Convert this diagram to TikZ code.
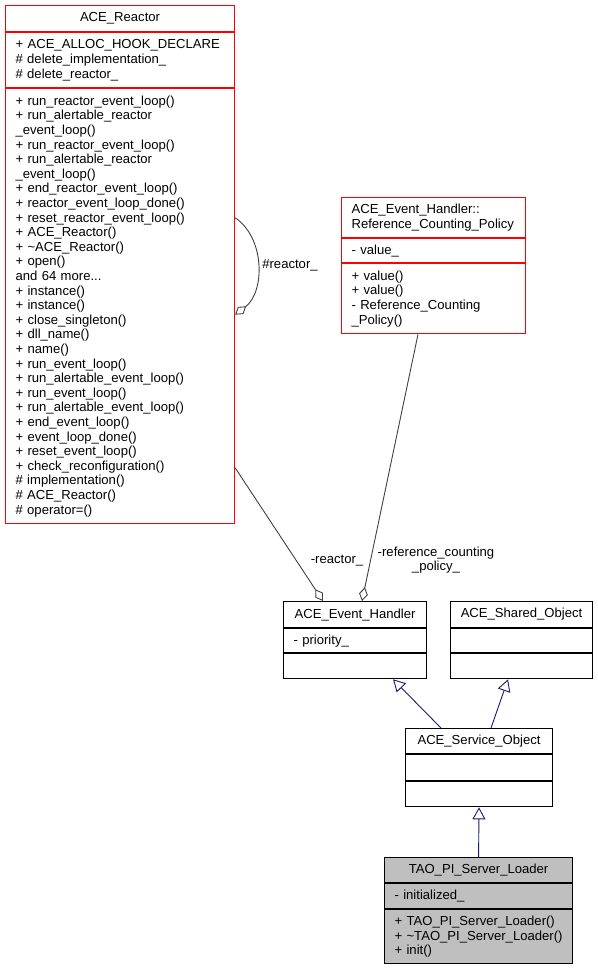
\documentclass[tikz,border=0pt]{standalone}
\usepackage{fontspec}
\setmainfont{Liberation Sans}
\usetikzlibrary{arrows.meta,positioning}
\definecolor{edgegrey}{HTML}{404040}
\definecolor{inhblue}{HTML}{191970}
\definecolor{boxred}{HTML}{FF0000}
\definecolor{curgrey}{HTML}{BFBFBF}

\begin{document}
\begin{tikzpicture}[x=1pt,y=-1pt,node distance=0pt]
      \tikzstyle{part}=[draw,line width=1.1pt,inner xsep=10pt,inner ysep=0pt,align=left,font=\fontsize{13.1}{14.6}\selectfont]
      \tikzstyle{hd}=[part,align=center]
      \tikzstyle{lbl}=[font=\fontsize{13.1}{14.6}\selectfont,align=center,inner sep=0pt]
      \tikzstyle{agg}=[edgegrey,line width=0.9pt,{Diamond[open,length=14pt,width=9pt]}-]
      \tikzstyle{inh}=[inhblue,line width=0.9pt,-{Triangle[open,length=12pt,width=13pt]}]
      \useasboundingbox (0,0) rectangle (597,968);
      % ACE_Reactor
      \node[hd,anchor=north west,draw=boxred,text width=209pt,minimum height=26pt] (reactor) at (5,5) {ACE\_Reactor};
      \node[part,draw=boxred,text width=209pt,minimum height=55pt,below=of reactor] (reactor-a) {+ ACE\_ALLOC\_HOOK\_DECLARE\\\# delete\_implementation\_\\\# delete\_reactor\_};
      \node[part,draw=boxred,text width=209pt,minimum height=435pt,below=of reactor-a] (reactor-m) {+ run\_reactor\_event\_loop()\\+ run\_alertable\_reactor\\\_event\_loop()\\+ run\_reactor\_event\_loop()\\+ run\_alertable\_reactor\\\_event\_loop()\\+ end\_reactor\_event\_loop()\\+ reactor\_event\_loop\_done()\\+ reset\_reactor\_event\_loop()\\+ ACE\_Reactor()\\+ \textasciitilde ACE\_Reactor()\\+ open()\\and 64 more...\\+ instance()\\+ instance()\\+ close\_singleton()\\+ dll\_name()\\+ name()\\+ run\_event\_loop()\\+ run\_alertable\_event\_loop()\\+ run\_event\_loop()\\+ run\_alertable\_event\_loop()\\+ end\_event\_loop()\\+ event\_loop\_done()\\+ reset\_event\_loop()\\+ check\_reconfiguration()\\\# implementation()\\\# ACE\_Reactor()\\\# operator=()};
      % Reference_Counting_Policy
      \node[part,anchor=north west,draw=boxred,text width=164pt,minimum height=40pt] (rcp) at (341,197) {ACE\_Event\_Handler::\\Reference\_Counting\_Policy};
      \node[part,draw=boxred,text width=164pt,minimum height=24pt,below=of rcp] (rcp-a) {- value\_};
      \node[part,draw=boxred,text width=164pt,minimum height=70pt,below=of rcp-a] (rcp-m) {+ value()\\+ value()\\- Reference\_Counting\\\_Policy()};
      % ACE_Event_Handler
      \node[hd,anchor=north west,text width=123pt,minimum height=26pt] (eh) at (283,601) {ACE\_Event\_Handler};
      \node[part,text width=123pt,minimum height=24pt,below=of eh] (eh-a) {- priority\_};
      \node[part,text width=123pt,minimum height=25pt,below=of eh-a] (eh-m) {};
      % ACE_Shared_Object
      \node[hd,anchor=north west,text width=122pt,minimum height=26pt] (so) at (450,601) {ACE\_Shared\_Object};
      \node[part,text width=122pt,minimum height=24pt,below=of so] (so-a) {};
      \node[part,text width=122pt,minimum height=25pt,below=of so-a] (so-m) {};
      % ACE_Service_Object
      \node[hd,anchor=north west,text width=127pt,minimum height=25pt] (servo) at (405,728) {ACE\_Service\_Object};
      \node[part,text width=127pt,minimum height=26pt,below=of servo] (servo-a) {};
      \node[part,text width=127pt,minimum height=25pt,below=of servo-a] (servo-m) {};
      % TAO_PI_Server_Loader
      \node[hd,anchor=north west,fill=curgrey,text width=168pt,minimum height=25pt] (tao) at (384,857) {TAO\_PI\_Server\_Loader};
      \node[part,fill=curgrey,text width=168pt,minimum height=25pt,below=of tao] (tao-a) {- initialized\_};
      \node[part,fill=curgrey,text width=168pt,minimum height=54pt,below=of tao-a] (tao-m) {+~TAO\_PI\_Server\_Loader()\\+~\textasciitilde TAO\_PI\_Server\_Loader()\\+~init()};
      % usage
      \draw[agg] ([yshift=-8.5pt]reactor-m.east) .. controls +(30,-23) and +(30,20) .. ([yshift=88.5pt]reactor-m.east);
      \node[lbl] (l-self) at (290,265) {\#reactor\_};
      \draw[agg] ([xshift=40pt]eh.north west) -- ([yshift=-161.5pt]reactor-m.east);
      \node[lbl] (l-reactor) at (337,561) {-reactor\_};
      \draw[agg] ([xshift=79pt]eh.north west) -- ([xshift=77pt]rcp-m.south west);
      \node[lbl] (l-rcp) at (436,560) {-reference\_counting\\\_policy\_};
      % inheritance
      \draw[inh] ([xshift=36pt]servo.north west) -- ([xshift=110pt]eh-m.south west);
      \draw[inh] ([xshift=86pt]servo.north west) -- ([xshift=58pt]so-m.south west);
      \draw[inh] (tao.north) -- (servo-m.south);
    \end{tikzpicture}
\end{document}
